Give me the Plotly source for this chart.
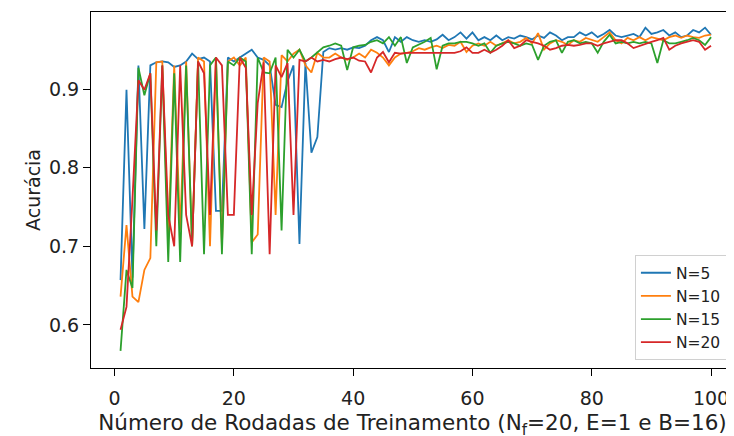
import plotly.graph_objects as go

rounds = list(range(1, 101))

acc_n5 = [0.657, 0.899, 0.66, 0.93, 0.722, 0.930, 0.934, 0.935, 0.934, 0.928,
          0.93, 0.935, 0.945, 0.938, 0.94, 0.935, 0.745, 0.745, 0.94, 0.935,
          0.94, 0.945, 0.95, 0.94, 0.937, 0.93, 0.88, 0.877, 0.91, 0.93,
          0.703, 0.933, 0.819, 0.839, 0.947, 0.952, 0.95, 0.952, 0.95, 0.953,
          0.952, 0.955, 0.962, 0.966, 0.962, 0.947, 0.966, 0.96, 0.966, 0.962,
          0.96, 0.962, 0.96, 0.963, 0.969, 0.962, 0.966, 0.972, 0.964, 0.972,
          0.962, 0.966, 0.962, 0.968, 0.962, 0.966, 0.964, 0.968, 0.966, 0.963,
          0.968, 0.965, 0.972, 0.968, 0.962, 0.966, 0.966, 0.972, 0.968, 0.972,
          0.966, 0.97, 0.975, 0.968, 0.966, 0.968, 0.97, 0.966, 0.978, 0.97,
          0.972, 0.975, 0.968, 0.972, 0.966, 0.968, 0.975, 0.972, 0.978, 0.969]

acc_n10 = [0.636, 0.727, 0.636, 0.629, 0.670, 0.685, 0.934, 0.935, 0.71, 0.93,
           0.72, 0.935, 0.70, 0.94, 0.935, 0.70, 0.94, 0.70, 0.935, 0.94,
           0.93, 0.94, 0.705, 0.715, 0.94, 0.935, 0.74, 0.943, 0.935, 0.945,
           0.95, 0.93, 0.921, 0.946, 0.94, 0.94, 0.945, 0.94, 0.937, 0.94,
           0.945, 0.94, 0.95, 0.946, 0.94, 0.93, 0.94, 0.945, 0.946, 0.948,
           0.952, 0.95, 0.953, 0.955, 0.952, 0.956, 0.955, 0.96, 0.947, 0.955,
           0.958, 0.955, 0.96, 0.955, 0.958, 0.962, 0.958, 0.96, 0.965, 0.958,
           0.971, 0.95, 0.958, 0.962, 0.96, 0.956, 0.962, 0.96, 0.965, 0.962,
           0.96, 0.966, 0.972, 0.962, 0.958, 0.965, 0.962, 0.966, 0.962, 0.966,
           0.964, 0.962, 0.966, 0.968, 0.965, 0.968, 0.966, 0.965, 0.968, 0.969]

acc_n15 = [0.567, 0.670, 0.647, 0.927, 0.892, 0.92, 0.70, 0.93, 0.68, 0.92,
           0.68, 0.93, 0.70, 0.935, 0.69, 0.93, 0.94, 0.69, 0.935, 0.93,
           0.94, 0.935, 0.69, 0.94, 0.921, 0.92, 0.94, 0.72, 0.95, 0.94,
           0.95, 0.935, 0.94, 0.946, 0.953, 0.955, 0.958, 0.955, 0.924, 0.953,
           0.955, 0.956, 0.96, 0.962, 0.958, 0.966, 0.955, 0.966, 0.933, 0.953,
           0.956, 0.96, 0.965, 0.925, 0.955, 0.958, 0.958, 0.96, 0.96, 0.958,
           0.955, 0.958, 0.946, 0.955, 0.958, 0.96, 0.958, 0.955, 0.958, 0.956,
           0.937, 0.955, 0.96, 0.962, 0.946, 0.96, 0.962, 0.958, 0.96, 0.958,
           0.946, 0.96, 0.969, 0.958, 0.96, 0.958, 0.96, 0.958, 0.96, 0.958,
           0.933, 0.962, 0.958, 0.958, 0.96, 0.962, 0.965, 0.962, 0.956, 0.966]

acc_n20 = [0.594, 0.623, 0.76, 0.911, 0.899, 0.92, 0.72, 0.93, 0.74, 0.70,
           0.93, 0.74, 0.70, 0.935, 0.92, 0.74, 0.94, 0.93, 0.74, 0.74,
           0.94, 0.927, 0.74, 0.882, 0.934, 0.69, 0.93, 0.915, 0.933, 0.74,
           0.937, 0.935, 0.94, 0.935, 0.937, 0.935, 0.938, 0.94, 0.938, 0.94,
           0.936, 0.935, 0.921, 0.94, 0.947, 0.934, 0.946, 0.945, 0.946, 0.946,
           0.946, 0.946, 0.946, 0.946, 0.946, 0.946, 0.946, 0.948, 0.953, 0.946,
           0.946, 0.95, 0.946, 0.95, 0.955, 0.962, 0.952, 0.955, 0.962, 0.96,
           0.958, 0.955, 0.95, 0.952, 0.955, 0.956, 0.955, 0.956, 0.958, 0.958,
           0.955, 0.958, 0.96, 0.962, 0.962, 0.958, 0.952, 0.955, 0.958, 0.96,
           0.962, 0.965, 0.95, 0.955, 0.958, 0.96, 0.962, 0.96, 0.95, 0.955]

series_names = ["N=5", "N=10", "N=15", "N=20"]
series_values = [acc_n5, acc_n10, acc_n15, acc_n20]
colors = ["#1f77b4", "#ff7f0e", "#2ca02c", "#d62728"]

x_ticks = [0, 20, 40, 60, 80, 100]
y_ticks = [0.6, 0.7, 0.8, 0.9]

fig = go.Figure()
for name, vals, c in zip(series_names, series_values, colors):
    fig.add_trace(go.Scatter(x=rounds, y=vals, mode="lines", name=name,
                             line=dict(color=c, width=1.8)))

font_family = "DejaVu Sans"
fig.update_layout(
    width=734, height=436,
    margin=dict(l=83, r=8, t=4, b=76, autoexpand=False),
    paper_bgcolor="white", plot_bgcolor="white",
    font=dict(family=font_family, size=19, color="#222222"),
    showlegend=True,
    legend=dict(x=0.989, y=0.022, xanchor="right", yanchor="bottom",
                bgcolor="rgba(255,255,255,0.8)", bordercolor="#d0d0d0",
                borderwidth=1, font=dict(size=15.5, color="#222222"),
                itemwidth=30, tracegroupgap=0),
)
fig.update_xaxes(
    range=[-3.95, 103.85], tickvals=x_ticks, ticktext=[str(v) for v in x_ticks],
    showgrid=False, zeroline=False, showline=True, linecolor="black", linewidth=1.2,
    mirror=True, ticks="outside", ticklen=7, tickcolor="black", tickwidth=1.2,
    ticklabelstandoff=6, automargin=False,
    title=dict(text="Número de Rodadas de Treinamento (N<sub>f</sub>=20, E=1 e B=16)",
               standoff=7, font=dict(size=21.5)),
)
fig.update_yaxes(
    range=[0.5453, 0.9979], tickvals=y_ticks, ticktext=[str(v) for v in y_ticks],
    showgrid=False, zeroline=False, showline=True, linecolor="black", linewidth=1.2,
    mirror=False, ticks="outside", ticklen=7, tickcolor="black", tickwidth=1.2,
    automargin=False,
    title=dict(text="Acurácia", standoff=3, font=dict(size=19)),
)

fig.write_html("out.html")
